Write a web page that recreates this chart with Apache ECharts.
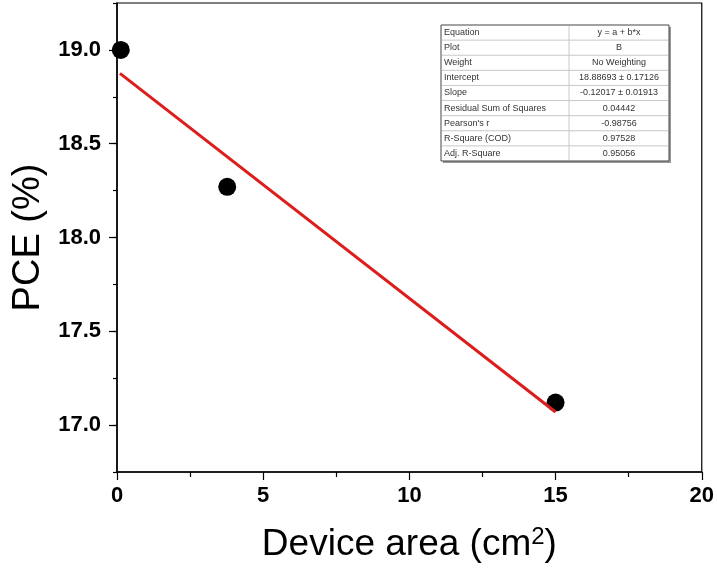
<!DOCTYPE html>
<html style="height: 100%">
<head>
    <meta charset="utf-8">
</head>
<body style="height: 100%; margin: 0; background: #fff">
<div id="container" style="width:717px; height:571px"></div>
<script type="text/javascript" src="https://cdn.jsdelivr.net/npm/echarts@6/dist/echarts.min.js"></script>

<script type="text/javascript">
    // measured points (device area cm2, PCE %)
    var area = [0.13, 3.77, 15.0];
    var pce = [19.0, 18.27, 17.12];
    // fitted line ends as drawn
    var fitX = [0.1, 15.0];
    var fitY = [18.875, 17.07];
    var yMajor = [17.0, 17.5, 18.0, 18.5, 19.0];

    var tableKeys = ['Equation', 'Plot', 'Weight', 'Intercept', 'Slope',
        'Residual Sum of Squares', "Pearson's r", 'R-Square (COD)', 'Adj. R-Square'];
    var tableVals = ['y = a + b*x', 'B', 'No Weighting', '18.88693 \u00b1 0.17126',
        '-0.12017 \u00b1 0.01913', '0.04442', '-0.98756', '0.97528', '0.95056'];

    var dom = document.getElementById("container");
    var myChart = echarts.init(dom);

    var font = 'Liberation Sans, Arial, sans-serif';

    // stats table as graphic
    var tL = 441, tR = 669, tT = 25, tB = 161, tMid = 569;
    var rowH = (tB - tT) / tableKeys.length;
    var tableEls = [];
    tableEls.push({type: 'rect', shape: {x: tL + 2, y: tT + 2, width: tR - tL, height: tB - tT},
        style: {fill: '#9a9a9a'}, silent: true});
    tableEls.push({type: 'rect', shape: {x: tL, y: tT, width: tR - tL, height: tB - tT},
        style: {fill: '#fff', stroke: '#444', lineWidth: 1}, silent: true});
    for (var i = 0; i < tableKeys.length; i++) {
        var y0 = tT + i * rowH;
        if (i > 0) {
            tableEls.push({type: 'line', shape: {x1: tL + 1, y1: y0, x2: tR - 1, y2: y0},
                style: {stroke: '#c8c8c8', lineWidth: 1}, silent: true});
        }
        tableEls.push({type: 'text', x: tL + 3, y: y0 + rowH / 2,
            style: {text: tableKeys[i], font: '9px ' + font, fill: '#333', verticalAlign: 'middle'}, silent: true});
        tableEls.push({type: 'text', x: (tMid + tR) / 2, y: y0 + rowH / 2,
            style: {text: tableVals[i], font: '9px ' + font, fill: '#333', align: 'center', verticalAlign: 'middle'}, silent: true});
    }
    tableEls.push({type: 'line', shape: {x1: tMid, y1: tT + 1, x2: tMid, y2: tB - 1},
        style: {stroke: '#c8c8c8', lineWidth: 1}, silent: true});

    var labelStyle = {color: '#000', fontFamily: font, fontWeight: 'bold', fontSize: 22};

    option = {
        backgroundColor: '#fff',
        animation: false,
        grid: {
            left: 117, right: 14, top: 3, bottom: 99,
            show: true, borderColor: '#000', borderWidth: 1.2
        },
        xAxis: {
            type: 'value',
            min: 0, max: 20, interval: 5,
            axisLine: {lineStyle: {color: '#000', width: 1.5}},
            axisTick: {length: 8, lineStyle: {color: '#000', width: 1.2}},
            minorTick: {show: true, splitNumber: 2, length: 5, lineStyle: {color: '#000', width: 1.2}},
            splitLine: {show: false},
            axisLabel: Object.assign({margin: 13}, labelStyle),
            name: 'Device area (cm{sup|2})',
            nameLocation: 'middle',
            nameGap: 53,
            nameTextStyle: {
                color: '#000', fontFamily: font, fontSize: 37,
                rich: {sup: {fontSize: 24, fontFamily: font, color: '#000', verticalAlign: 'top', padding: [0, 0, 16, 0]}}
            }
        },
        yAxis: [{
            type: 'value',
            min: 16.75, max: 19.25, interval: 0.25,
            axisLine: {lineStyle: {color: '#000', width: 1.5}},
            axisTick: {length: 4, lineStyle: {color: '#000', width: 1.2}},
            splitLine: {show: false},
            axisLabel: Object.assign({
                margin: 16,
                formatter: function (v) {
                    return Math.abs(v * 2 - Math.round(v * 2)) < 1e-6 ? v.toFixed(1) : '';
                }
            }, labelStyle),
            name: 'PCE (%)',
            nameLocation: 'middle',
            nameGap: 65,
            nameTextStyle: {color: '#000', fontFamily: font, fontSize: 38}
        }, {
            type: 'value',
            position: 'left',
            min: 16.75, max: 19.25, interval: 0.25,
            axisLine: {show: false},
            axisTick: {customValues: yMajor, length: 8, lineStyle: {color: '#000', width: 1.2}},
            axisLabel: {show: false},
            splitLine: {show: false}
        }],
        graphic: tableEls,
        series: [{
            name: 'data',
            type: 'scatter',
            symbol: 'circle',
            symbolSize: 18,
            itemStyle: {color: '#000', opacity: 1},
            data: area.map(function (x, k) { return [x, pce[k]]; }),
            z: 2
        }, {
            name: 'fit',
            type: 'line',
            symbol: 'none',
            lineStyle: {color: '#dd1c1c', width: 3},
            data: fitX.map(function (x, k) { return [x, fitY[k]]; }),
            z: 3
        }]
    };

    if (option && typeof option === "object") {
        myChart.setOption(option, true);
    }
</script>

</body>
</html>
